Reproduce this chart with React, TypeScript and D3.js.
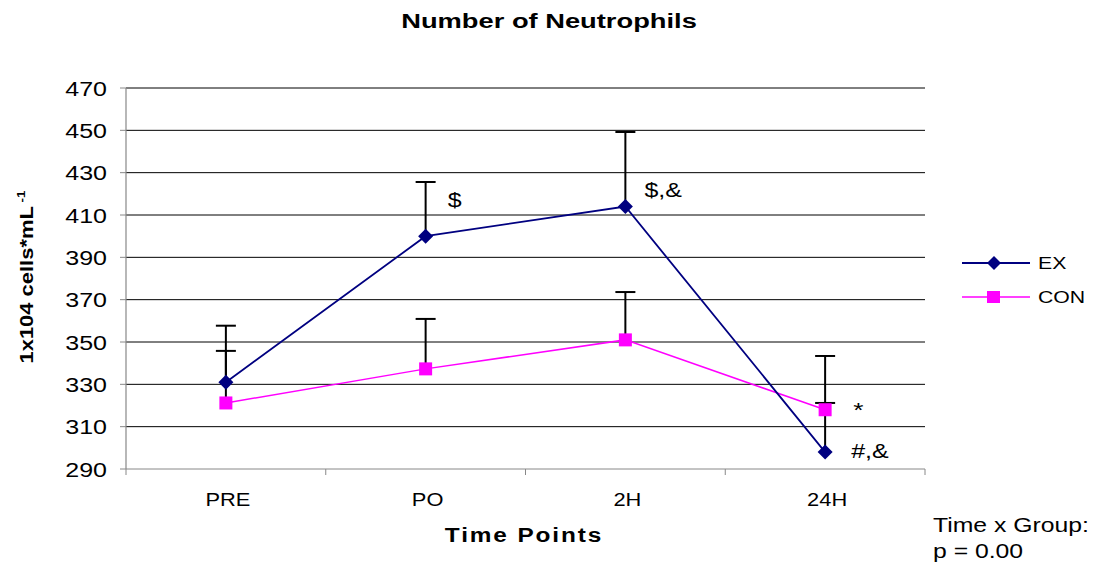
import React from "react";
import * as d3 from "d3";

const categories = ["PRE", "PO", "2H", "24H"];
const exValues = [331, 400, 414, 298];
const exErrorTops = [357.7, 425.6, 449.2, 343.4];
const conValues = [321.2, 337.3, 351, 318];
const conErrorTops = [345.8, 360.9, 373.6, 321.2];
const yTicks = [290, 310, 330, 350, 370, 390, 410, 430, 450, 470];
const exNotes = ["", "$", "$,&", "#,&"];
const conNotes = ["", "", "", "*"];

const W = 1102;
const H = 565;
const plot = { left: 126, right: 925, top: 88, bottom: 469 };
const FONT = "'Liberation Sans', Arial, sans-serif";
const EX_COLOR = "#000080";
const CON_COLOR = "#FF00FF";
const STRETCH = 1.25;

type TProps = {
  x: number;
  y: number;
  size: number;
  anchor?: "start" | "middle" | "end";
  bold?: boolean;
  rotate?: number;
  spacing?: number;
  sx?: number;
  children: React.ReactNode;
};

// Horizontally widened text, as in the chart's typography
function T({ x, y, size, anchor = "start", bold, rotate, spacing, sx = STRETCH, children }: TProps) {
  const rot = rotate ? ` rotate(${rotate})` : "";
  return (
    <text
      transform={`translate(${x},${y})${rot} scale(${sx},1)`}
      textAnchor={anchor}
      fontSize={size}
      fontWeight={bold ? "bold" : "normal"}
      letterSpacing={spacing}
    >
      {children}
    </text>
  );
}

export default function App() {
  const x = d3.scaleBand<string>().domain(categories).range([plot.left, plot.right]);
  const y = d3.scaleLinear().domain([290, 470]).range([plot.bottom, plot.top]);
  const cx = (c: string) => (x(c) ?? 0) + x.bandwidth() / 2;

  const line = d3
    .line<number>()
    .x((_, i) => cx(categories[i]))
    .y((d) => y(d));

  const boundaries = [...categories.map((c) => x(c) ?? 0), plot.right];

  const diamond = (px: number, py: number, r: number) =>
    `M${px},${py - r}L${px + r},${py}L${px},${py + r}L${px - r},${py}Z`;

  const errors = [
    ...categories.map((c, i) => ({ c, v: exValues[i], t: exErrorTops[i] })),
    ...categories.map((c, i) => ({ c, v: conValues[i], t: conErrorTops[i] })),
  ];

  // offsets of the significance marks from their points
  const exNoteOffset = [
    [0, 0],
    [22, -29],
    [19, -10],
    [26, 6],
  ];

  return (
    <svg
      width={W}
      height={H}
      style={{ position: "absolute", left: 0, top: 0, background: "#fff" }}
      fontFamily={FONT}
    >
      <rect width={W} height={H} fill="#fff" />
      <T x={549} y={28} size={21} anchor="middle" bold sx={1.3}>
        Number of Neutrophils
      </T>

      {/* horizontal gridlines */}
      {yTicks.map((t) => (
        <line
          key={t}
          x1={plot.left}
          x2={plot.right}
          y1={y(t)}
          y2={y(t)}
          stroke={t === 290 ? "#888" : "#000"}
          strokeWidth={1}
        />
      ))}
      {/* y axis */}
      <line x1={plot.left} x2={plot.left} y1={plot.top} y2={plot.bottom} stroke="#888" strokeWidth={1.2} />
      {yTicks.map((t) => (
        <g key={"yt" + t}>
          <line x1={plot.left - 6} x2={plot.left} y1={y(t)} y2={y(t)} stroke="#888" />
          <T x={107} y={y(t) + 7.5} size={20} anchor="end">
            {t}
          </T>
        </g>
      ))}
      {/* x axis ticks and labels */}
      {boundaries.map((b, i) => (
        <line key={"xb" + i} x1={b} x2={b} y1={plot.bottom} y2={plot.bottom + 6} stroke="#888" />
      ))}
      {categories.map((c) => (
        <T key={c} x={cx(c) + 2} y={506} size={19} anchor="middle" sx={1.15}>
          {c}
        </T>
      ))}

      <T x={524} y={542} size={19.5} anchor="middle" bold spacing={1.5}>
        Time Points
      </T>
      <T x={33} y={277} size={18} anchor="middle" bold rotate={-90} sx={1.22}>
        1x104 cells*mL
        <tspan fontSize={11} dy={-8}> -1</tspan>
      </T>

      {/* series lines */}
      <path d={line(conValues) ?? ""} fill="none" stroke={CON_COLOR} strokeWidth={1.5} />
      <path d={line(exValues) ?? ""} fill="none" stroke={EX_COLOR} strokeWidth={1.8} />

      {/* error bars (upper) */}
      {errors.map((e, i) => (
        <g key={"err" + i}>
          <line x1={cx(e.c)} x2={cx(e.c)} y1={y(e.v)} y2={y(e.t)} stroke="#000" strokeWidth={2} />
          <line x1={cx(e.c) - 10} x2={cx(e.c) + 10} y1={y(e.t)} y2={y(e.t)} stroke="#000" strokeWidth={2} />
        </g>
      ))}

      {/* markers */}
      {categories.map((c, i) => (
        <rect
          key={"cm" + c}
          x={cx(c) - 6.5}
          y={y(conValues[i]) - 6.5}
          width={13}
          height={13}
          fill={CON_COLOR}
        />
      ))}
      {categories.map((c, i) => (
        <path key={"em" + c} d={diamond(cx(c), y(exValues[i]), 7.5)} fill={EX_COLOR} />
      ))}

      {/* significance annotations */}
      {categories.map((c, i) =>
        exNotes[i] ? (
          <T
            key={"en" + c}
            x={cx(c) + exNoteOffset[i][0]}
            y={y(exValues[i]) + exNoteOffset[i][1]}
            size={20}
          >
            {exNotes[i]}
          </T>
        ) : null
      )}
      {categories.map((c, i) =>
        conNotes[i] ? (
          <T key={"cn" + c} x={cx(c) + 28} y={y(conValues[i]) + 7} size={21}>
            {conNotes[i]}
          </T>
        ) : null
      )}

      {/* legend */}
      <line x1={962} x2={1030} y1={263} y2={263} stroke={EX_COLOR} strokeWidth={1.8} />
      <path d={diamond(994, 263, 7)} fill={EX_COLOR} />
      <T x={1038} y={269} size={17}>EX</T>
      <line x1={962} x2={1030} y1={297} y2={297} stroke={CON_COLOR} strokeWidth={1.5} />
      <rect x={987} y={291} width={13} height={12} fill={CON_COLOR} />
      <T x={1038} y={303} size={17}>CON</T>

      <T x={933} y={532} size={19.5} sx={1.27}>Time x Group:</T>
      <T x={933} y={558} size={19.5} sx={1.27}>p = 0.00</T>
    </svg>
  );
}
